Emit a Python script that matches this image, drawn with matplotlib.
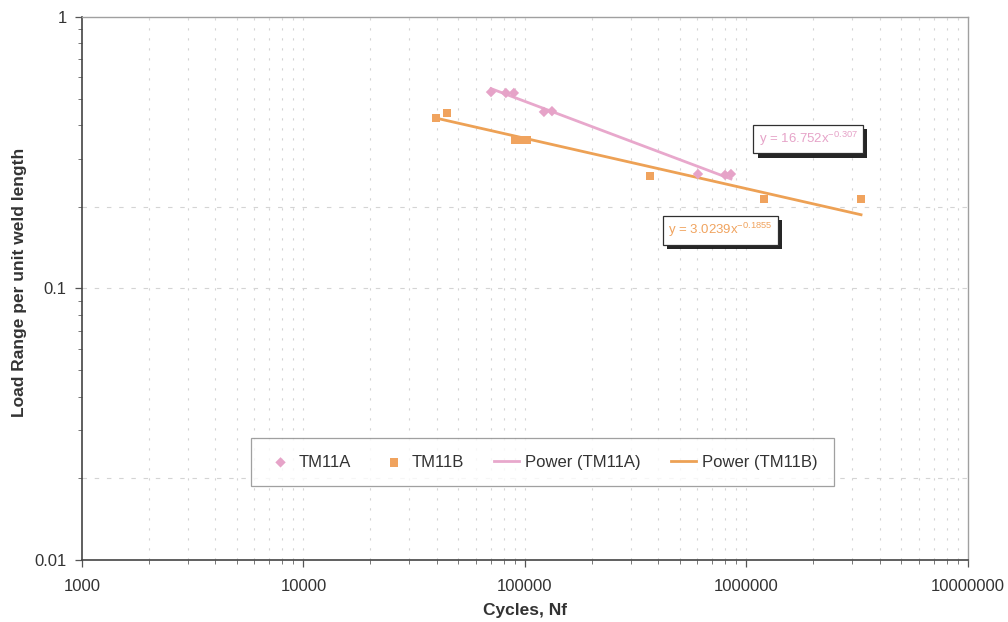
import matplotlib
matplotlib.use("Agg")
import matplotlib.pyplot as plt
import matplotlib.patheffects as pe
from matplotlib.ticker import LogLocator, FixedLocator, NullFormatter, FixedFormatter
import numpy as np

plt.rcParams['font.family'] = ['Liberation Sans', 'DejaVu Sans']

# Fatigue test results: cycles to failure vs load range per unit weld length
tm11a_cycles = [70250, 82000, 89100, 121800, 132400, 604000, 800000, 851000]
tm11a_load = [0.529, 0.525, 0.525, 0.447, 0.450, 0.264, 0.262, 0.264]

tm11b_cycles = [39600, 44500, 90200, 95900, 102100, 366000, 1200000, 3290000]
tm11b_load = [0.425, 0.443, 0.352, 0.352, 0.352, 0.260, 0.214, 0.214]

# Power-law trend lines y = a * x^b
fit_a = (16.752, -0.307)
fit_b = (3.0239, -0.1855)

x_ticks = [1000, 10000, 100000, 1000000, 10000000]
x_tick_labels = ["1000", "10000", "100000", "1000000", "10000000"]
y_ticks = [0.01, 0.1, 1]
y_tick_labels = ["0.01", "0.1", "1"]

pink = "#e6a3c8"
orange = "#f0a35e"
pink_line = "#e8a8cc"
orange_line = "#eda155"
grid_col = "#d4d4d4"

fig = plt.figure(figsize=(10.08, 6.22), dpi=100)
ax = fig.add_axes([0.0813, 0.0997, 0.879, 0.873])
ax.set_xscale("log")
ax.set_yscale("log")
ax.set_xlim(1000, 1e7)
ax.set_ylim(0.01, 1)

# grid: dashed verticals at every decade and sub-decade, a few horizontals
for dec in range(3, 7):
    for m in range(1, 10):
        xv = m * 10 ** dec
        if xv <= 1000:
            continue
        ax.axvline(xv, color=grid_col, lw=0.8, ls=(0, (2, 7)), zorder=0)
for yv in [0.02, 0.1, 0.2]:
    ax.axhline(yv, color=grid_col, lw=0.8, ls=(0, (4, 7)), zorder=0)

def power_curve(fit, xs):
    xx = np.logspace(np.log10(min(xs)), np.log10(max(xs)), 50)
    return xx, fit[0] * xx ** fit[1]

xa, ya = power_curve(fit_a, tm11a_cycles)
xb, yb = power_curve(fit_b, tm11b_cycles)

ax.scatter(tm11a_cycles, tm11a_load, marker="D", s=28, color=pink, zorder=3, label="TM11A", edgecolors="none")
ax.scatter(tm11b_cycles, tm11b_load, marker="s", s=36, color=orange, zorder=3, label="TM11B", edgecolors="none")
ax.plot(xa, ya, color=pink_line, lw=2.0, zorder=2, label="Power (TM11A)")
ax.plot(xb, yb, color=orange_line, lw=2.0, zorder=2, label="Power (TM11B)")

# equation boxes with drop shadows
shadow = [pe.withSimplePatchShadow(offset=(3, -3), shadow_rgbFace="black", alpha=0.85)]
t1 = ax.text(1.9e6, 0.355, "y = %.3fx$^{\\mathregular{%.3f}}$" % fit_a, color=pink, fontsize=9.5,
             ha="center", va="center",
             bbox=dict(boxstyle="square,pad=0.4", fc="white", ec="#303030", lw=0.9), zorder=5)
t1.get_bbox_patch().set_path_effects(shadow)
t2 = ax.text(7.6e5, 0.164, "y = %.4fx$^{\\mathregular{%.4f}}$" % fit_b, color=orange, fontsize=9.5,
             ha="center", va="center",
             bbox=dict(boxstyle="square,pad=0.4", fc="white", ec="#303030", lw=0.9), zorder=5)
t2.get_bbox_patch().set_path_effects(shadow)

ax.xaxis.set_major_locator(FixedLocator(x_ticks))
ax.xaxis.set_major_formatter(FixedFormatter(x_tick_labels))
ax.yaxis.set_major_locator(FixedLocator(y_ticks))
ax.yaxis.set_major_formatter(FixedFormatter(y_tick_labels))
ax.xaxis.set_minor_locator(LogLocator(base=10, subs=np.arange(2, 10)))
ax.yaxis.set_minor_locator(LogLocator(base=10, subs=np.arange(2, 10)))
ax.xaxis.set_minor_formatter(NullFormatter())
ax.yaxis.set_minor_formatter(NullFormatter())

ax.tick_params(axis="both", which="major", labelsize=12, labelcolor="#333333",
               length=5, width=0.9, color="#555555", direction="out")
ax.tick_params(axis="both", which="minor", length=3, width=0.7, color="#777777", direction="out")
ax.tick_params(axis="x", pad=9)
ax.tick_params(axis="y", pad=6)

for side in ["left", "bottom"]:
    ax.spines[side].set_color("#444444")
    ax.spines[side].set_linewidth(1.2)
for side in ["top", "right"]:
    ax.spines[side].set_color("#a0a0a0")
    ax.spines[side].set_linewidth(1.0)

ax.set_xlabel("Cycles, Nf", fontsize=12.5, fontweight="bold", color="#333333", labelpad=6)
ax.set_ylabel("Load Range per unit weld length", fontsize=12.5, fontweight="bold", color="#333333")
ax.yaxis.set_label_coords(-0.062, 0.512)

leg = ax.legend(loc="center", bbox_to_anchor=(0.52, 0.18), ncol=4, fontsize=12,
                frameon=True, fancybox=False, edgecolor="#888888", handlelength=1.5,
                columnspacing=1.8, borderpad=1.0, handletextpad=0.35, scatterpoints=1)
leg.get_frame().set_linewidth(0.9)
for t in leg.get_texts():
    t.set_color("#333333")

fig.savefig("out.png", dpi=100)
